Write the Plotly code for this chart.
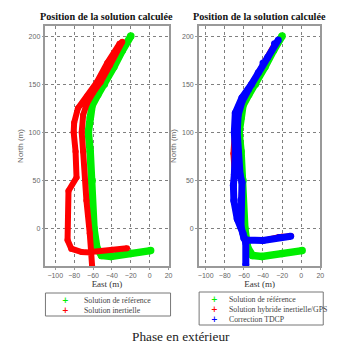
import plotly.graph_objects as go

# ---------------- data (East, North in metres) ----------------
# Solution de référence (green) - same trajectory in both panels
ref_east = [1, -20, -41, -51, -56, -59, -61, -63, -65, -63, -61, -55, -48, -38, -29, -20]
ref_north = [-23, -26, -29, -28, -20, 0, 50, 80, 100, 115, 128, 139, 150, 168, 185, 200]

# Solution inertielle (red, left panel)
ins_east = [-24, -40, -62, -63.5, -67, -70.5, -72, -70.5, -66.5, -60, -52, -42, -29,
            -32, -45, -56, -66, -76, -80, -80.5, -78.5, -77.5, -86, -87, -83, -72, -62, -61]
ins_north = [-20.5, -22, -24.5, -5, 29, 80, 100, 118, 130, 141, 152, 170, 194,
             192, 172, 152, 138, 125, 110, 100, 80, 53, 39, -12, -21, -24.5, -25, -39]

# Solution hybride inertielle/GPS (red, right panel)
hyb_east = [-10, -20, -24, -40, -57, -60, -63, -63, -62, -64, -66, -67, -66, -62, -55, -45, -35, -24,
            -28, -40, -52, -62, -69, -70, -71.5, -70, -71, -70.5, -67, -61, -58, -58]
hyb_north = [-7.5, -7.8, -8.5, -12.5, -12, -10, 2, 30, 48, 56, 80, 100, 118, 132, 145, 162, 178, 196,
             192, 172, 150, 136, 120, 100, 78, 56, 45, 29, 10, -5, -15, -38]

# Correction TDCP (blue, right panel)
tdcp_east = [-11, -23, -40, -57, -60, -63, -63, -62, -64, -66, -67, -66, -62, -55, -45, -35, -24,
             -28, -40, -52, -62, -69, -70, -69, -70, -71, -70.5, -67, -61, -58, -58]
tdcp_north = [-8, -9.5, -12.5, -12, -10, 2, 30, 48, 56, 80, 100, 118, 132, 145, 162, 178, 196,
              192, 172, 150, 136, 120, 100, 80, 56, 45, 29, 10, -5, -15, -38]

x_ticks = [-100, -80, -60, -40, -20, 0, 20]
y_ticks = [0, 50, 100, 150, 200]

title_txt = "Position de la solution calculée"
caption = "Phase en extérieur"
left_legend = ["Solution de référence", "Solution inertielle"]
right_legend = ["Solution de référence", "Solution hybride inertielle/GPS", "Correction TDCP"]

GREEN = "#00ee00"
RED = "#ff0000"
BLUE = "#0000ff"

# page body has an 8px margin: the figure is drawn 8px right/down of the window origin
OFF = 8
W, H = 343 - OFF, 344 - OFF


def px(x):
    return (x - OFF) / W


def py(y):
    return 1 - (y - OFF) / H


fig = go.Figure()


def trail(x, y, color, width, xa, ya):
    fig.add_trace(go.Scatter(
        x=x, y=y, mode="lines+markers", xaxis=xa, yaxis=ya, showlegend=False,
        line=dict(color=color, width=width),
        marker=dict(color=color, size=width, line=dict(width=0)),
        hoverinfo="x+y"))


trail(ref_east, ref_north, GREEN, 7.5, "x", "y")
trail(ins_east, ins_north, RED, 6, "x", "y")
trail(ref_east, ref_north, GREEN, 7.5, "x2", "y2")
trail(hyb_east, hyb_north, RED, 5, "x2", "y2")
trail(tdcp_east, tdcp_north, BLUE, 7, "x2", "y2")

tickfont = dict(family="Liberation Sans, Arial, sans-serif", size=7, color="#666")
common_x = dict(tickvals=x_ticks, showgrid=True, gridcolor="#808080", griddash="dot", gridwidth=1,
                showline=True, mirror=True, linecolor="#999", linewidth=1.5,
                ticks="outside", ticklen=2, tickcolor="#999", tickfont=tickfont, zeroline=False,
                title=dict(text="East (m)", standoff=2,
                           font=dict(family="Liberation Serif, Times New Roman, serif", size=9, color="#333")))
common_y = dict(tickvals=y_ticks, range=[-39, 210.5], showgrid=True, gridcolor="#808080", griddash="dot",
                gridwidth=1, showline=True, mirror=True, linecolor="#999", linewidth=1.5,
                ticks="outside", ticklen=2, tickcolor="#999", tickfont=tickfont, zeroline=False,
                title=dict(text="North (m)", standoff=4,
                           font=dict(family="Liberation Sans, Arial, sans-serif", size=8, color="#666")))

ydom = [py(266), py(26)]
fig.update_layout(
    width=W, height=H, margin=dict(l=0, r=0, t=0, b=0),
    paper_bgcolor="white", plot_bgcolor="white", showlegend=False,
    xaxis=dict(common_x, domain=[px(45), px(170)], range=[-110.4, 20], anchor="y"),
    yaxis=dict(common_y, domain=ydom, anchor="x"),
    xaxis2=dict(common_x, domain=[px(200.7), px(324)], range=[-107.2, 20], anchor="y2"),
    yaxis2=dict(common_y, domain=ydom, anchor="x2"),
)

ann = []
title_font = dict(family="Liberation Serif, Times New Roman, serif", size=10.2, color="#111")
for cx in (107, 262):
    ann.append(dict(text="<b>%s</b>" % title_txt, x=px(cx), y=py(16), xref="paper", yref="paper",
                    showarrow=False, xanchor="center", yanchor="middle", font=title_font))
ann.append(dict(text=caption, x=px(183), y=py(336), xref="paper", yref="paper", showarrow=False,
                xanchor="center", yanchor="middle",
                font=dict(family="Liberation Serif, Times New Roman, serif", size=13.3, color="#222")))

leg_font = dict(family="Liberation Serif, Times New Roman, serif", size=7.8, color="#444")
mark_font = dict(family="DejaVu Sans, sans-serif", size=8)


def legend(entries, colors, mx, tx, rows):
    for label, col, ry in zip(entries, colors, rows):
        ann.append(dict(text="<b>+</b>", x=px(mx), y=py(ry), xref="paper", yref="paper", showarrow=False,
                        xanchor="center", yanchor="middle", font=dict(mark_font, color=col)))
        ann.append(dict(text=label, x=px(tx), y=py(ry), xref="paper", yref="paper", showarrow=False,
                        xanchor="left", yanchor="middle", font=leg_font))


legend(left_legend, [GREEN, RED], 65, 82, [300, 310.5])
legend(right_legend, [GREEN, RED, BLUE], 217, 229, [299, 309, 319])

shapes = [
    dict(type="rect", xref="paper", yref="paper", x0=px(45), x1=px(172), y0=py(316), y1=py(293),
         line=dict(color="#777", width=1)),
    dict(type="rect", xref="paper", yref="paper", x0=px(201), x1=px(327), y0=py(325), y1=py(292),
         line=dict(color="#777", width=1)),
]
fig.update_layout(annotations=ann, shapes=shapes)

fig.write_html("out.html")
